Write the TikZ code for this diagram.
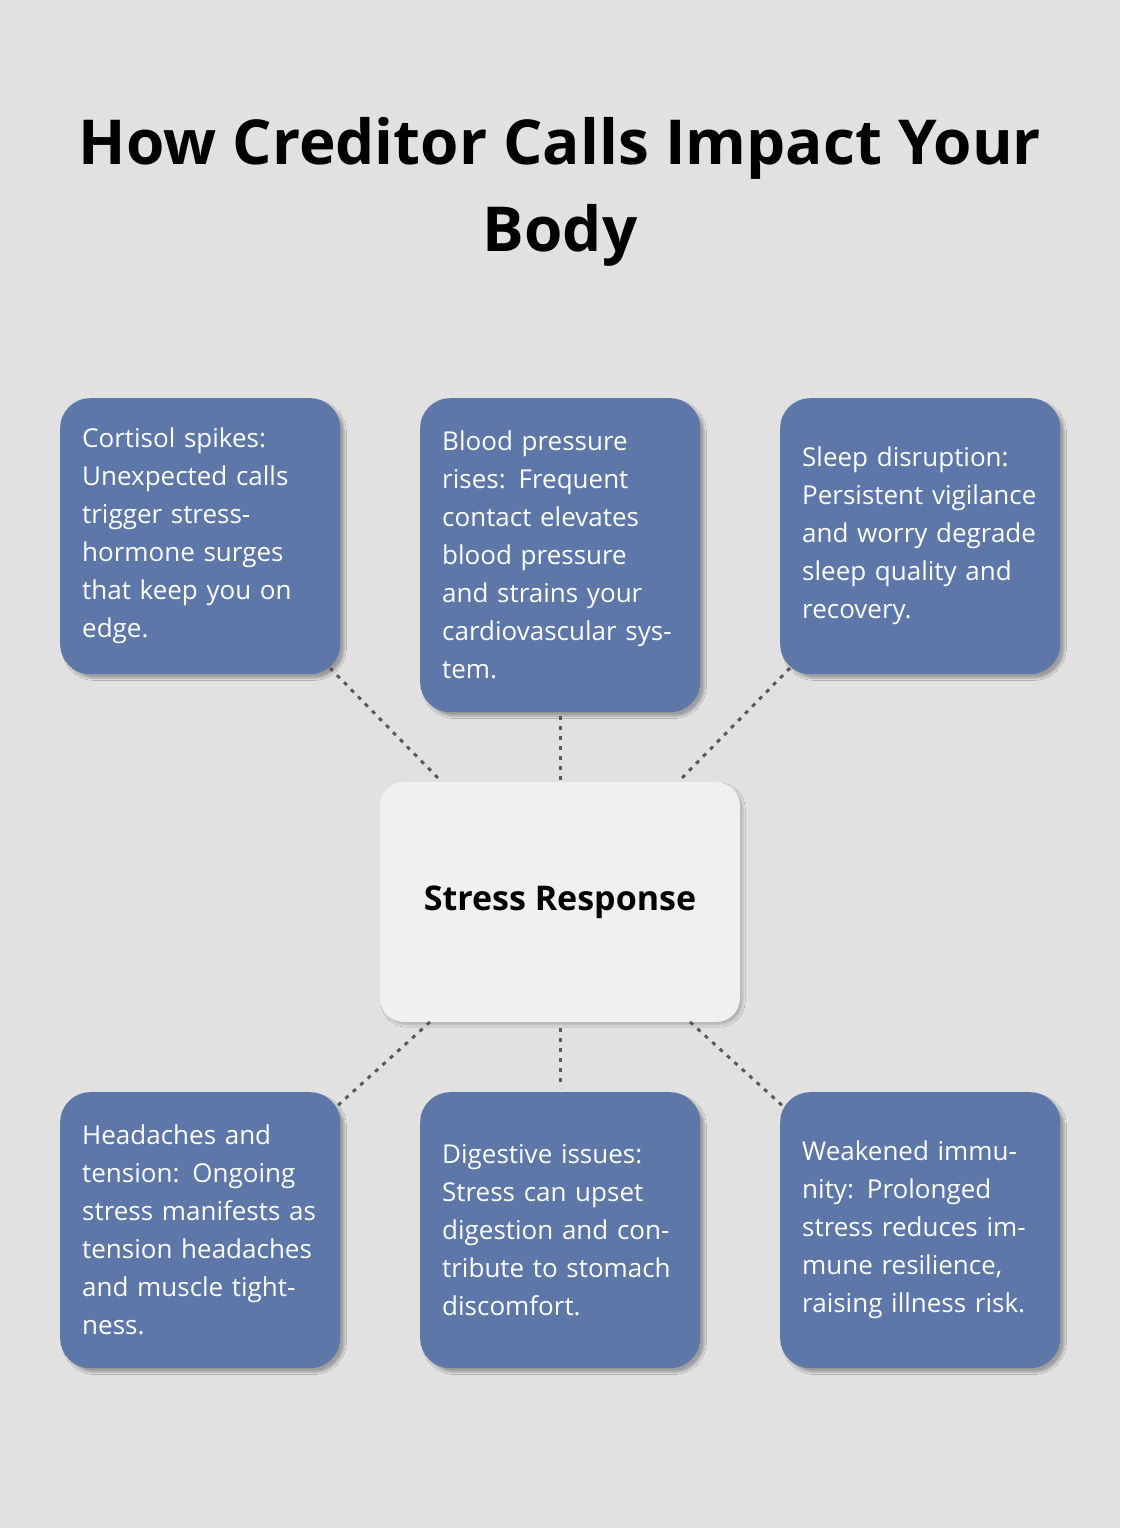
\documentclass[tikz,border=0pt]{standalone}
\usepackage{fontspec}
\setmainfont{Open Sans}
\usetikzlibrary{shadows.blur}
\definecolor{bg}{HTML}{E0E1E0}
\definecolor{boxblue}{HTML}{5D77A8}
\definecolor{center}{HTML}{EFF0F2}
\begin{document}
\begin{tikzpicture}[x=1pt,y=-1pt,
 card/.style={draw=none,fill=boxblue,rounded corners=30pt,text=white,align=left,
   text width=236pt,inner xsep=22pt,minimum width=280pt,anchor=north west,
   font=\fontsize{26}{38}\selectfont,blur shadow={shadow xshift=4pt,shadow yshift=-4pt,shadow blur steps=6,shadow opacity=30}},
 link/.style={draw=black!65,line width=3pt,dash pattern=on 4pt off 6pt}]
\fill[bg] (0,0) rectangle (1120,1528);
\useasboundingbox (0,0) rectangle (1120,1528);
\node[font=\fontsize{62}{87}\selectfont\bfseries,align=center] (title) at (560,192) {How Creditor Calls Impact Your\\Body};
\node[card,minimum height=276pt] (a) at (60,398) {Cortisol spikes: Unexpected calls trigger stress-hormone surges that keep you on edge.};
\node[card,minimum height=314pt] (b) at (420,398) {Blood pressure rises: Frequent contact elevates blood pressure and strains your cardiovascular system.};
\node[card,minimum height=276pt] (c) at (780,398) {Sleep disruption: Persistent vigilance and worry degrade sleep quality and recovery.};
\node[card,minimum height=276pt] (d) at (60,1092) {Headaches and tension: Ongoing stress manifests as tension headaches and muscle tightness.};
\node[card,minimum height=276pt] (e) at (420,1092) {Digestive issues: Stress can upset digestion and contribute to stomach discomfort.};
\node[card,minimum height=276pt] (f) at (780,1092) {Weakened immunity: Prolonged stress reduces immune resilience, raising illness risk.};
\node[fill=center,rounded corners=24pt,minimum width=360pt,minimum height=240pt,
  font=\fontsize{34}{40}\selectfont\bfseries,blur shadow={shadow xshift=3pt,shadow yshift=-3pt,shadow blur steps=6,shadow opacity=20}] (s) at (560,902) {Stress Response};
\coordinate (a1) at (330,668); \coordinate (s1) at (440,780);
\coordinate (b1) at (560,716); \coordinate (s2) at (560,780);
\coordinate (c1) at (790,668); \coordinate (s3) at (680,780);
\coordinate (d1) at (335,1108); \coordinate (s4) at (430,1022);
\coordinate (e1) at (560,1088); \coordinate (s5) at (560,1028);
\coordinate (f1) at (785,1108); \coordinate (s6) at (690,1022);
\draw[link] (a1) -- (s1);
\draw[link] (b1) -- (s2);
\draw[link] (c1) -- (s3);
\draw[link] (s4) -- (d1);
\draw[link] (s5) -- (e1);
\draw[link] (s6) -- (f1);
\end{tikzpicture}
\end{document}
